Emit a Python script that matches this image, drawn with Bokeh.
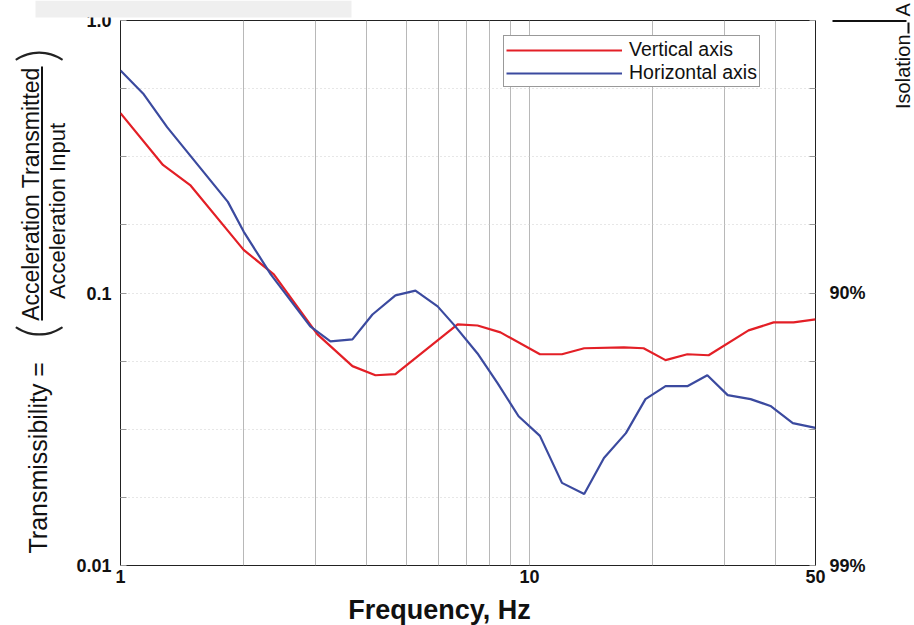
import math
from bokeh.plotting import figure
from bokeh.layouts import column
from bokeh.models import FixedTicker, LogAxis, Label, BoxAnnotation, Legend, LegendItem, Range1d
from bokeh.embed import file_html
from bokeh.resources import INLINE

# ---------------- data ----------------
freq_vertical = [1.0, 1.27, 1.48, 2.0, 2.37, 3.03, 3.69, 4.2, 4.7, 6.67, 7.46, 8.49,
                 10.6, 12.0, 13.6, 17.0, 19.0, 21.5, 24.3, 27.4, 34.3, 39.5, 44.2, 50.0]
trans_vertical = [0.457, 0.295, 0.249, 0.144, 0.117, 0.0705, 0.0539, 0.0499, 0.0504, 0.0767, 0.0760, 0.0717,
                  0.0596, 0.0596, 0.0627, 0.0632, 0.0627, 0.0567, 0.0596, 0.0591, 0.0729, 0.078, 0.078, 0.080]

freq_horizontal = [1.0, 1.14, 1.30, 1.83, 2.0, 2.33, 2.91, 3.26, 3.69, 4.13, 4.70, 5.26, 5.96, 6.52,
                   7.46, 8.35, 9.40, 10.6, 12.0, 13.6, 15.2, 17.2, 19.2, 21.5, 24.3, 27.2, 30.5,
                   34.7, 38.8, 44.0, 50.0]
trans_horizontal = [0.656, 0.536, 0.406, 0.216, 0.168, 0.117, 0.0754, 0.0665, 0.0676, 0.0834, 0.098, 0.102,
                    0.0893, 0.0767, 0.060, 0.0467, 0.0353, 0.0299, 0.0201, 0.0183, 0.0248, 0.0306,
                    0.0408, 0.0455, 0.0455, 0.0499, 0.0422, 0.0408, 0.0385, 0.0333, 0.0320]

x_tick_values = [1, 2, 3, 4, 5, 6, 7, 8, 9, 10, 20, 30, 40, 50]
x_tick_labels = ["1", "", "", "", "", "", "", "", "", "10", "", "", "", "50"]

y_tick_values = [10 ** (-k / 4) for k in range(9)]
y_tick_labels = ["1.0", "", "", "", "0.1", "", "", "", "0.01"]
y_right_labels = ["", "", "", "", "90%", "", "", "", "99%"]

series_names = ["Vertical axis", "Horizontal axis"]
RED = "#e31f26"
BLUE = "#3b4a9f"
FONT = "Liberation Sans"
INK = "#111111"

# ---------------- main chart ----------------
W, H = 914, 625
p = figure(width=W, height=H, x_axis_type="log", y_axis_type="log",
           x_range=Range1d(1, 50), y_range=Range1d(0.01, 1.0),
           output_backend="svg", toolbar_location=None,
           min_border_left=120, min_border_right=99, min_border_top=20, min_border_bottom=60)
p.frame_align = False
p.background_fill_color = "white"
p.border_fill_color = "white"
p.outline_line_color = "#222222"
p.outline_line_width = 1


def style_axis(ax, standoff, tick_in):
    ax.major_tick_in = tick_in
    ax.major_tick_out = 0
    ax.major_tick_line_color = "#999999"
    ax.minor_tick_in = 0
    ax.minor_tick_out = 0
    ax.axis_line_color = None
    ax.major_label_standoff = standoff
    ax.major_label_text_font = FONT
    ax.major_label_text_font_style = "bold"
    ax.major_label_text_font_size = "18px"
    ax.major_label_text_color = INK


xa = p.xaxis[0]
xa.ticker = FixedTicker(ticks=x_tick_values)
xa.major_label_overrides = {v: s for v, s in zip(x_tick_values, x_tick_labels)}
style_axis(xa, 4, 0)

ya = p.yaxis[0]
ya.ticker = FixedTicker(ticks=y_tick_values)
ya.major_label_overrides = {v: s for v, s in zip(y_tick_values, y_tick_labels)}
style_axis(ya, 9, 6)

ra = LogAxis(ticker=FixedTicker(ticks=y_tick_values),
             major_label_overrides={v: s for v, s in zip(y_tick_values, y_right_labels)})
style_axis(ra, 14, 6)
p.add_layout(ra, "right")

p.xgrid.grid_line_color = "#b8b8b8"
p.xgrid.grid_line_width = 1
p.ygrid.grid_line_color = "#cfcfcf"
p.ygrid.grid_line_dash = "1 3"

r1 = p.line(freq_vertical, trans_vertical, line_color=RED, line_width=2.2)
r2 = p.line(freq_horizontal, trans_horizontal, line_color=BLUE, line_width=2.2)

FL, FB = 120, 565   # frame left / bottom in page pixels
legend = Legend(items=[LegendItem(label=series_names[0], renderers=[r1]),
                       LegendItem(label=series_names[1], renderers=[r2])],
                location=(503 - FL, FB - 87))
legend.border_line_color = "#333333"
legend.border_line_width = 1
legend.background_fill_alpha = 1.0
legend.padding = 2
legend.spacing = 0
legend.margin = 0
legend.glyph_width = 116
legend.glyph_height = 20
legend.label_height = 20
legend.label_standoff = 7
legend.label_text_font = FONT
legend.label_text_font_size = "19.5px"
legend.label_text_color = INK
p.add_layout(legend)

# ---------------- transparent overlay for the free texts (page pixel space) ----------------
ov = figure(width=W, height=H, x_range=Range1d(0, W), y_range=Range1d(H, 0),
            output_backend="svg", toolbar_location=None,
            min_border_left=0, min_border_right=0, min_border_top=0, min_border_bottom=0,
            x_axis_location=None, y_axis_location=None)
ov.frame_align = False
ov.grid.visible = False
ov.outline_line_color = None
ov.background_fill_color = None
ov.border_fill_color = None
ov.margin = (-H, 0, 0, 0)


def lab(text, x, y, size, angle=0.0, align="center", style="normal", font=FONT, color=INK):
    ov.add_layout(Label(x=x, y=y, text=text, angle=angle, text_align=align,
                        text_baseline="middle", text_font=font,
                        text_font_size=f"{size}px", text_font_style=style, text_color=color))


def box(l, r, t, b, color=INK):
    ov.add_layout(BoxAnnotation(left=l, right=r, top=t, bottom=b, fill_color=color,
                                fill_alpha=1.0, line_color=None))


UP = math.pi / 2
box(35, 351, 0, 17, color="#efefef")          # faint watermark band

lab("Transmissibility =", 37, 553, 25, angle=UP, align="left")
lab("Acceleration Transmitted", 30.5, 193.5, 23, angle=UP)
lab("Acceleration Input", 57, 210.5, 22, angle=UP)
box(40.5, 42.5, 66, 320)
lab("(", 35, 331, 54, angle=UP, font="Lato Light", color="#222222")
lab(")", 35, 55, 54, angle=UP, font="Lato Light", color="#222222")

lab("Frequency, Hz", 439, 609, 27, style="bold")

lab("Isolation", 902, 34, 20, angle=UP, align="right")
box(907, 909, 22, 33)
box(832, 906, 19.5, 21.5)
lab("A", 902, 16, 20, angle=UP, align="left")

layout = column(p, ov)
open("out.html", "w").write(file_html(layout, INLINE))
